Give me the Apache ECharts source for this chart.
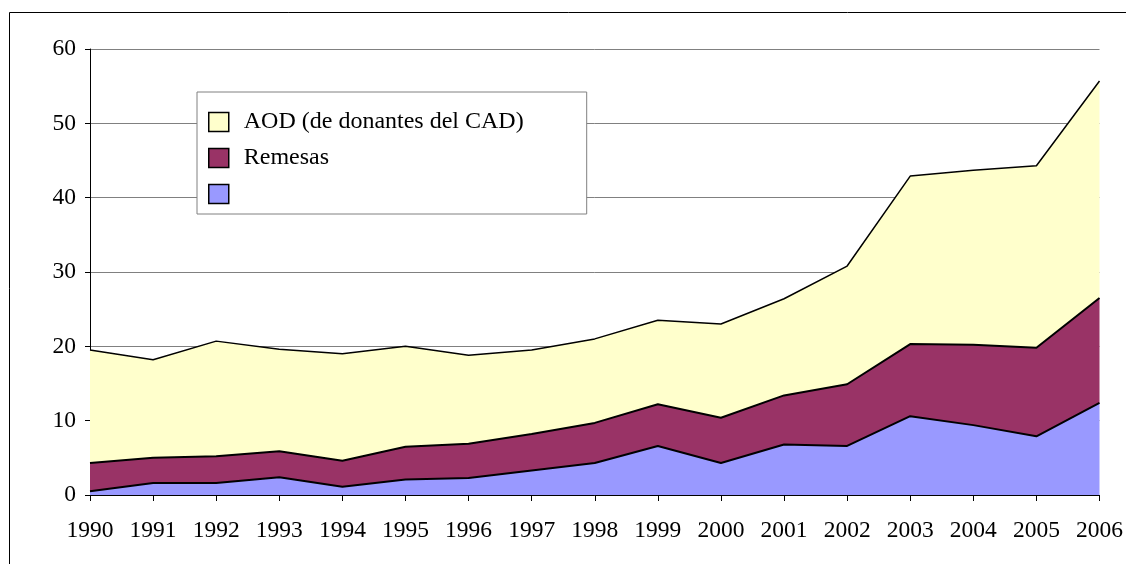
<!DOCTYPE html>
<html>
<head>
<meta charset="utf-8">
<script src="https://cdn.jsdelivr.net/npm/echarts@6/dist/echarts.min.js"></script>
<style>
  html, body { margin: 0; padding: 0; background: #fff; }
  #chart { width: 1126px; height: 564px; }
</style>
</head>
<body>
<div id="chart"></div>
<script>
const years = ['1990', '1991', '1992', '1993', '1994', '1995', '1996', '1997', '1998',
    '1999', '2000', '2001', '2002', '2003', '2004', '2005', '2006'];

// bottom layer (legend label is blank in the original)
const baseFlow = [0.5, 1.6, 1.6, 2.4, 1.1, 2.1, 2.3, 3.3, 4.3, 6.6, 4.3, 6.8, 6.6, 10.6, 9.4, 7.9, 12.4];
const remesas = [3.8, 3.4, 3.6, 3.5, 3.5, 4.4, 4.6, 4.9, 5.4, 5.6, 6.1, 6.6, 8.3, 9.7, 10.8, 11.9, 14.1];
const aod = [15.2, 13.2, 15.5, 13.7, 14.4, 13.5, 11.9, 11.3, 11.3, 11.3, 12.6, 13.0, 15.9, 22.6, 23.5, 24.5, 29.2];

const yTicks = { min: 0, max: 60, interval: 10 };

const serif = '"Liberation Serif", "DejaVu Serif", serif';

const chart = echarts.init(document.getElementById('chart'), null, { renderer: 'canvas' });

const areaSeries = (name, data, fill, width) => ({
    name,
    type: 'line',
    stack: 'total',
    data,
    showSymbol: false,
    symbol: 'none',
    itemStyle: { color: fill },
    lineStyle: { color: '#000', width },
    areaStyle: { color: fill, opacity: 1 },
    emphasis: { disabled: true },
});

chart.setOption({
    backgroundColor: '#fff',
    animation: false,
    textStyle: { fontFamily: serif },
    graphic: [{
        type: 'rect',
        shape: { x: 9.5, y: 12.5, width: 1300, height: 700 },
        style: { fill: null, stroke: '#000', lineWidth: 1 },
        silent: true,
    }],
    grid: { left: 90, right: 26, top: 49, bottom: 69 },
    legend: {
        orient: 'vertical',
        left: 197,
        top: 92,
        data: ['AOD (de donantes del CAD)', 'Remesas', ' '],
        icon: 'rect',
        itemWidth: 20,
        itemHeight: 19,
        itemGap: 12,
        padding: [18, 63, 8, 11],
        borderColor: '#808080',
        borderWidth: 1,
        backgroundColor: '#fff',
        itemStyle: { borderColor: '#000', borderWidth: 1.5 },
        textStyle: { fontFamily: serif, fontSize: 24, color: '#000', lineHeight: 19, padding: [0, 0, 0, 10] },
    },
    xAxis: {
        type: 'category',
        data: years,
        boundaryGap: false,
        axisLine: { lineStyle: { color: '#000', width: 1 } },
        axisTick: { show: true, length: 6, lineStyle: { color: '#000' } },
        axisLabel: { interval: 0, margin: 24, fontFamily: serif, fontSize: 23.5, color: '#000' },
        splitLine: { show: false },
    },
    yAxis: {
        type: 'value',
        min: yTicks.min,
        max: yTicks.max,
        interval: yTicks.interval,
        axisLine: { show: true, lineStyle: { color: '#000', width: 1 } },
        axisTick: { show: true, length: 5, lineStyle: { color: '#000' } },
        axisLabel: { margin: 14, fontFamily: serif, fontSize: 23.5, color: '#000' },
        splitLine: { show: true, lineStyle: { color: '#808080', width: 1 } },
    },
    series: [
        areaSeries(' ', baseFlow, '#9999FF', 2),
        areaSeries('Remesas', remesas, '#993366', 2),
        areaSeries('AOD (de donantes del CAD)', aod, '#FFFFCC', 1.5),
    ],
});

window.addEventListener('resize', () => chart.resize());
</script>
</body>
</html>
